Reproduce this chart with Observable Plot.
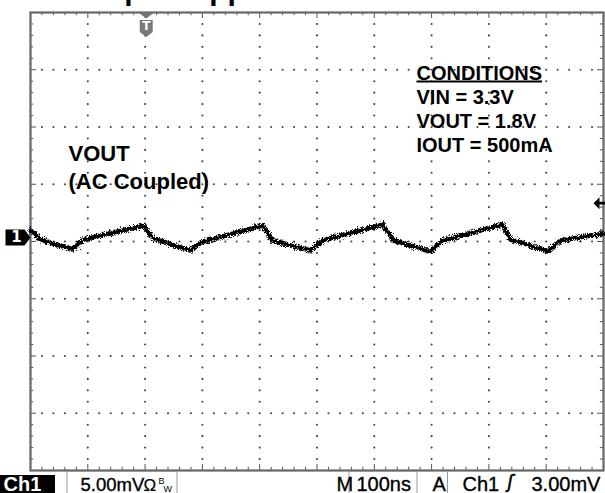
<!DOCTYPE html>
<html><head><meta charset="utf-8">
<script src="https://cdn.jsdelivr.net/npm/d3@7"></script>
<script src="https://cdn.jsdelivr.net/npm/@observablehq/plot@0.6"></script>
<style>html,body{margin:0;padding:0;background:#fff;overflow:hidden}</style>
</head><body><div id="chart"></div>
<script>
// ---- data ----
const timeNs = [0, 17.5, 73.3, 92.5, 197.2, 214.7, 279.2, 296.7, 404.9, 422.3, 488.7, 509.6, 614.3, 633.5, 698.1, 719.0, 823.7, 837.7, 904.0, 925.0, 1000];
const voutMv = [0.61, -0.17, -1.05, -0.17, 1.05, -0.09, -1.14, -0.44, 1.05, -0.26, -1.14, -0.26, 1.14, -0.26, -1.22, -0.26, 1.14, -0.17, -1.22, -0.26, 0.35];
const timePerDiv = 100;      // ns/div
const voltPerDiv = 5;        // mV/div
const hDivs = 10, vDivs = 8, minorPerDiv = 5;
const ch1Offset = 0.35;      // mV, channel ground marker vs. screen centre
const triggerPosNs = 202;
const triggerLevelMv = 3.0;
const titleText = "Output Ripple";
const traceLabel = ["VOUT", "(AC Coupled)"];
const condTitle = "CONDITIONS";
const condLines = ["VIN = 3.3V", "VOUT = 1.8V", "IOUT = 500mA"];
const statusCh = "Ch1";
const statusScale = "5.00mV";
const statusTime = "100ns";
const statusTrig = ["A", "Ch1", "ʃ", "3.00mV"];

const trace = timeNs.map((t, i) => ({t, v: voutMv[i] + ch1Offset}));

// ---- layout ----
const W = 605, H = 493, mL = 30, mR = 2, mT = 12, mB = 23;
const xMax = hDivs * timePerDiv, yMax = vDivs / 2 * voltPerDiv;
const pxX = (W - mL - mR) / xMax, pxY = (H - mT - mB) / (2 * yMax);
const px2t = px => (px - mL) / pxX;
const py2v = py => yMax - (py - mT) / pxY;

const xMinor = d3.range(0, xMax + 1e-6, timePerDiv / minorPerDiv);
const yMinor = d3.range(-yMax, yMax + 1e-6, voltPerDiv / minorPerDiv);
const isMajX = t => Math.abs(t / timePerDiv - Math.round(t / timePerDiv)) < 1e-6;
const isMajY = v => Math.abs(v / voltPerDiv - Math.round(v / voltPerDiv)) < 1e-6;
const dots = [];
for (const t of xMinor) if (isMajX(t) && t > 0 && t < xMax) for (const v of yMinor) if (v > -yMax && v < yMax) dots.push({t, v});
for (const v of yMinor) if (isMajY(v) && v > -yMax && v < yMax) for (const t of xMinor) if (t > 0 && t < xMax && !isMajX(t)) dots.push({t, v});

const shield = {draw(c) { c.moveTo(-6.5, -8.5); c.lineTo(6.5, -8.5); c.lineTo(6.5, 3.5); c.lineTo(0, 8.5); c.lineTo(-6.5, 3.5); c.closePath(); }};
const downTri = {draw(c) { c.moveTo(-8, 0); c.lineTo(8, 0); c.lineTo(0, 6); c.closePath(); }};
const chMark = {draw(c) { c.moveTo(0, 0); c.lineTo(-6, -8); c.lineTo(-25, -8); c.lineTo(-25, 8); c.lineTo(-6, 8); c.closePath(); }};
const leftArrow = {draw(c) { c.moveTo(-7, 0); c.lineTo(-1, -6); c.lineTo(-1, -1.3); c.lineTo(6, -1.3); c.lineTo(6, 1.3); c.lineTo(-1, 1.3); c.lineTo(-1, 6); c.closePath(); }};

const sans = "Liberation Sans, Arial, sans-serif";
const tx = (s, o) => Plot.text([s], {text: d => d, fontFamily: sans, fill: "black", textAnchor: "start", lineAnchor: "bottom", ...o});
const st = (s, px, o) => tx(s, {frameAnchor: "bottom-left", dx: px - mL, dy: 490 - (H - mB), fontSize: 20, stroke: "black", strokeWidth: 0.35, className: "status", ...o});

const svg = Plot.plot({
  width: W, height: H,
  marginLeft: mL, marginRight: mR, marginTop: mT, marginBottom: mB,
  x: {domain: [0, xMax], axis: null},
  y: {domain: [-yMax, yMax], axis: null},
  style: {background: "white", overflow: "visible"},
  marks: [
    Plot.dot(dots, {x: "t", y: "v", r: 1.05, fill: "#444"}),
    // border ticks
    Plot.ruleX(xMinor, {x: d => d, y1: yMax, y2: d => yMax - (isMajX(d) ? 6 : 3.2) / pxY, stroke: "#555", strokeWidth: 1}),
    Plot.ruleX(xMinor, {x: d => d, y1: -yMax, y2: d => -yMax + (isMajX(d) ? 6 : 3.2) / pxY, stroke: "#555", strokeWidth: 1}),
    Plot.ruleY(yMinor, {y: d => d, x1: 0, x2: d => (isMajY(d) ? 6 : 3.2) / pxX, stroke: "#555", strokeWidth: 1}),
    Plot.ruleY(yMinor, {y: d => d, x1: xMax, x2: d => xMax - (isMajY(d) ? 6 : 3.2) / pxX, stroke: "#555", strokeWidth: 1}),
    Plot.frame({stroke: "#666", strokeWidth: 2.2}),
    // waveform
    Plot.line(trace, {x: "t", y: "v", stroke: "black", strokeWidth: 4.6, strokeLinejoin: "round", className: "trace"}),
    // markers
    Plot.dot([triggerPosNs], {x: d => d, y: yMax, symbol: downTri, fill: "#777"}),
    Plot.dot([triggerPosNs], {x: d => d, y: yMax, dy: 16, symbol: shield, fill: "#7a7a7a"}),
    Plot.text(["T"], {x: triggerPosNs, y: yMax, dy: 14, text: d => d, fill: "white", fontWeight: "bold", fontSize: 12, fontFamily: "DejaVu Sans", lineAnchor: "middle"}),
    Plot.dot([ch1Offset], {x: 0, y: d => d, symbol: chMark, fill: "black"}),
    Plot.text(["1"], {x: 0, y: ch1Offset, dx: -14, text: d => d, fill: "white", fontWeight: "bold", fontSize: 15, fontFamily: "DejaVu Sans", lineAnchor: "middle"}),
    Plot.dot([triggerLevelMv + ch1Offset], {x: xMax, y: d => d, dx: -3, symbol: leftArrow, fill: "black"}),
    // annotations
    tx(titleText, {frameAnchor: "top-left", dx: 72 - mL, dy: -1 - mT, fontSize: 30, fontWeight: "bold"}),
    tx(traceLabel[0], {frameAnchor: "top-left", dx: 68 - mL, dy: 160 - mT, fontSize: 22, fontWeight: "bold"}),
    tx(traceLabel[1], {frameAnchor: "top-left", dx: 68 - mL, dy: 188 - mT, fontSize: 22, fontWeight: "bold"}),
    tx(condTitle, {frameAnchor: "top-left", dx: 416 - mL, dy: 79 - mT, fontSize: 20, fontWeight: "bold", className: "condtitle"}),
    ...condLines.map((s, i) => tx(s, {frameAnchor: "top-left", dx: 416 - mL, dy: 103 + 24 * i - mT, fontSize: 20, fontWeight: "bold"})),
    // status bar
    Plot.rect([0], {x1: px2t(0), x2: px2t(55), y1: py2v(475), y2: py2v(493), fill: "black"}),
    Plot.rect([0], {x1: px2t(67), x2: px2t(177), y1: py2v(471.5), y2: py2v(496), fill: "none", stroke: "#999", strokeWidth: 1}),
    Plot.rect([0], {x1: px2t(349), x2: px2t(417), y1: py2v(471.5), y2: py2v(496), fill: "none", stroke: "#999", strokeWidth: 1}),
    Plot.ruleX([px2t(447)], {x: d => d, y1: py2v(472), y2: py2v(493), stroke: "#999"}),
    st(statusCh, 3, {fontWeight: "bold", fill: "white", stroke: "none"}),
    st(statusScale, 80, {fontSize: 18.5}),
    st("Ω", 143, {fontSize: 17, strokeWidth: 0.2}),
    st("B", 158, {dy: 483 - (H - mB), fontSize: 9, strokeWidth: 0}),
    st("W", 163, {dy: 491 - (H - mB), fontSize: 9, strokeWidth: 0}),
    st("M", 336, {}),
    st(statusTime, 356, {}),
    st(statusTrig[0], 432, {}),
    st(statusTrig[1], 462, {}),
    st(statusTrig[2], 507, {dy: 487 - (H - mB), fontSize: 17, fontFamily: "DejaVu Sans", fontStyle: "italic", strokeWidth: 0.6}),
    st(statusTrig[3], 531, {})
  ]
});

const s = d3.select(svg);
const f = s.insert("defs", ":first-child").append("filter").attr("id", "noise")
  .attr("x", "-2%").attr("y", "-60%").attr("width", "104%").attr("height", "220%");
f.append("feTurbulence").attr("type", "fractalNoise").attr("baseFrequency", "1.3").attr("numOctaves", 2).attr("seed", 3).attr("result", "n");
f.append("feDisplacementMap").attr("in", "SourceGraphic").attr("in2", "n").attr("scale", 7).attr("xChannelSelector", "R").attr("yChannelSelector", "G");
s.selectAll(".trace path").attr("filter", "url(#noise)");
s.selectAll(".condtitle text").style("text-decoration", "underline");
document.getElementById("chart").appendChild(svg);
</script></body></html>
